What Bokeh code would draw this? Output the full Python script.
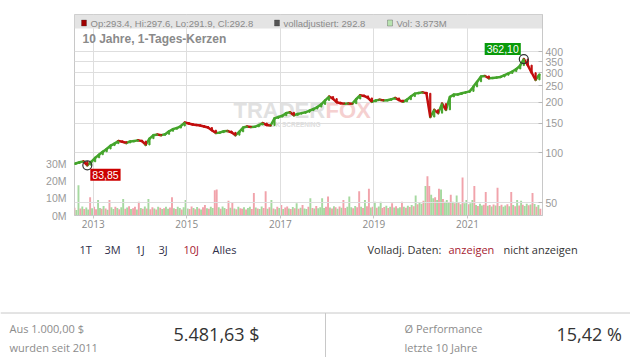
import pandas as pd
from math import log10
from bokeh.plotting import figure
from bokeh.models import (Range1d, LinearAxis, LinearScale, FixedTicker, NumeralTickFormatter,
                          DatetimeTickFormatter, CustomJSTickFormatter, Label,
                          BoxAnnotation, ColumnDataSource)
from bokeh.embed import file_html
from bokeh.resources import INLINE

# ---------------- data ----------------
start_month = "2012-08-01"
first_open = 85.0
closes = [
    86.0, 87.5, 88.5, 83.85, 88.0, 93.0, 97.0, 101.0, 105.0, 110.0, 113.0, 117.0,
    116.0, 114.0, 116.5, 117.0, 118.5, 117.0, 111.0, 121.0, 127.0, 128.0, 127.0, 128.5,
    134.0, 138.0, 140.0, 144.0, 151.0, 149.0, 147.0, 146.0, 145.0, 143.0, 141.0, 136.0,
    131.0, 131.5, 134.0, 134.5, 132.0, 127.0, 133.0, 141.0, 143.0, 142.0, 142.5, 146.0,
    150.0, 146.0, 145.0, 160.0, 163.0, 166.0, 172.0, 174.0, 167.0, 170.0, 172.0, 174.0,
    178.0, 182.0, 187.0, 194.0, 205.0, 216.0, 210.0, 200.0, 197.0, 196.0, 196.5, 196.0,
    209.0, 220.0, 218.0, 212.0, 201.0, 205.0, 207.0, 205.0, 205.5, 208.0, 212.0, 206.0,
    201.0, 207.0, 216.0, 225.0, 227.0, 229.0, 226.0, 163.0, 180.0, 172.0, 196.0, 180.0,
    215.0, 222.0, 222.5, 226.0, 229.0, 232.0, 247.0, 265.0, 285.0, 287.0, 278.0, 279.0,
    281.0, 283.0, 290.0, 297.0, 305.0, 316.0, 331.0, 362.10, 333.0, 300.0, 272.0, 292.8,
]
# volume in millions, two bars per month
volumes = [
    4.5, 3.2, 17.5, 4.0, 5.2, 3.8, 4.6, 3.5, 10.5, 4.2, 5.0, 3.6, 9.0, 4.4, 3.9, 5.5, 4.1, 3.3, 9.0, 4.7, 3.8, 5.1, 4.3, 3.6,
    4.8, 9.5, 3.9, 4.6, 5.3, 3.7, 4.2, 5.0, 3.5, 8.0, 4.4, 3.9, 5.2, 4.0, 9.5, 3.6, 4.8, 4.1, 3.4, 5.0, 4.5, 3.8, 4.2, 5.1,
    3.9, 4.6, 10.5, 4.2, 3.7, 5.0, 4.4, 3.5, 4.8, 9.0, 4.1, 3.8, 5.2, 4.3, 3.6, 4.9, 4.0, 3.4, 4.7, 6.0, 4.2, 3.9, 5.1, 4.4,
    14.6, 15.0, 4.8, 3.9, 5.2, 4.3, 3.8, 8.5, 4.5, 7.5, 4.0, 3.6, 5.0, 4.2, 3.9, 4.8, 3.5, 4.4, 5.1, 3.8, 13.0, 4.6, 4.0, 3.7,
    5.2, 4.4, 14.0, 3.9, 4.7, 9.0, 4.1, 3.6, 5.0, 4.3, 6.0, 3.8, 4.6, 5.2, 4.0, 3.7, 4.9, 4.2, 7.0, 3.9, 4.5, 6.0, 4.1, 3.8,
    5.1, 10.0, 4.4, 4.0, 5.5, 4.2, 4.8, 10.0, 4.3, 5.0, 11.0, 4.6, 4.1, 5.4, 4.7, 3.9, 5.2, 4.5, 9.0, 4.3, 5.0, 11.0, 4.8, 4.2,
    5.5, 4.7, 14.0, 5.1, 4.4, 9.0, 5.3, 15.5, 4.6, 5.0, 8.0, 4.5, 5.2, 8.0, 4.3, 4.9, 5.6, 4.4, 5.0, 7.0, 4.6, 5.3, 4.2, 4.8,
    8.0, 5.0, 4.5, 5.6, 4.9, 6.0, 5.4, 11.5, 6.5, 7.2, 6.8, 8.5, 17.0, 22.7, 17.0, 12.0, 10.0, 10.5, 9.0, 15.5, 15.0, 9.5, 8.0, 9.0,
    7.5, 12.0, 8.0, 7.0, 11.5, 7.2, 6.5, 22.0, 7.0, 9.0, 6.5, 7.0, 9.0, 17.0, 6.0, 5.5, 6.8, 5.8, 6.2, 13.5, 5.6, 6.0, 5.2, 6.4,
    5.8, 16.0, 5.5, 6.2, 5.0, 5.7, 6.5, 5.3, 13.5, 6.0, 5.4, 9.0, 5.8, 8.5, 6.2, 5.5, 6.8, 5.9, 6.3, 13.0, 6.6, 5.0, 6.0, 3.873,
]
volume_dir = ("rggrgrggrgrrggrgrgrggrgr" "ggrgrgrrgrgrgrgrrgrgrgrg" "grrgrggrgggrrgrgrgrrgrgg"
              "rrgrggrrgrgrgrrgrggrrgrg" "grrgrgrgrgrgrrgrgrgrgrgg" "rgrgrggggrrgrgrgrgrrgggr"
              "grrgrgrrgrgrggrrgrgrgrgg" "rgrgrgrgrggrgrrggrgrgrgg" "grgrgrgrggrggrgrggrrgrgr"
              "grgrggrgrgrgrgrggrgrgrgr")
year_ticks = [2013, 2015, 2017, 2019, 2021]
price_ticks = [50, 100, 150, 200, 250, 300, 350, 400]
vol_ticks = [0, 10, 20, 30]
low_value, low_text = 83.85, "83,85"
high_value, high_text = 362.10, "362,10"
header_ohlc = "Op:293.4, Hi:297.6, Lo:291.9, Cl:292.8"
header_adj = "volladjustiert: 292.8"
header_vol = "Vol: 3.873M"
chart_title = "10 Jahre, 1-Tages-Kerzen"
range_buttons = ["1T", "3M", "1J", "3J", "10J", "Alles"]
adj_texts = ["Volladj. Daten:", "anzeigen", "nicht anzeigen"]
invest_label = ["Aus 1.000,00 $", "wurden seit 2011"]
invest_value = "5.481,63 $"
perf_label = ["Ø Performance", "letzte 10 Jahre"]
perf_value = "15,42 %"

# ---------------- derived ----------------
month_starts = pd.date_range(start_month, periods=len(closes), freq="MS")
months = month_starts + pd.Timedelta(days=15)
prev_months = months - pd.Timedelta(days=30)
opens = [first_open] + closes[:-1]
UP, DOWN = "#45a52c", "#c20e0e"
ccol = [UP if c >= o else DOWN for o, c in zip(opens, closes)]
vol_dates = []
for m in month_starts:
    vol_dates += [m + pd.Timedelta(days=7), m + pd.Timedelta(days=22)]
n = min(len(vol_dates), len(volumes), len(volume_dir))
vcol = ["#a6d9a0" if d == "g" else "#f1a3ab" for d in volume_dir[:n]]

DAY = 86400000
X0, X1 = pd.Timestamp("2012-08-08"), pd.Timestamp("2022-08-09")
Y0, Y1 = 42.0, 669.0
W = 630
TOP_H = 236
FL, FR, FT, FB = 74, 542, 14, 215   # frame in page pixels
ms0, ms1 = X0.value // 10**6, X1.value // 10**6

def px_x(px):
    return ms0 + (px - FL) / (FR - FL) * (ms1 - ms0)

def px_y(py):
    return 10 ** (log10(Y0) + (FB - py) / (FB - FT) * (log10(Y1) - log10(Y0)))

# ---------------- chart figure ----------------
pA = figure(width=W, height=TOP_H, x_axis_type="datetime", y_axis_type="log",
            x_range=Range1d(X0, X1), y_range=Range1d(Y0, Y1), y_axis_location="right",
            output_backend="svg", toolbar_location=None,
            min_border_left=FL, min_border_right=W - FR,
            min_border_top=FT, min_border_bottom=TOP_H - FB)
pA.outline_line_color = "#c8c8c8"
pA.background_fill_color = "white"
pA.extra_y_ranges = {"vol": Range1d(0, 116.0)}
pA.extra_y_scales = {"vol": LinearScale()}

GRID = "#dedede"
year_ms = [pd.Timestamp(f"{y}-01-01").value // 10**6 for y in year_ticks]
pA.xaxis.ticker = FixedTicker(ticks=year_ms)
pA.xgrid.ticker = FixedTicker(ticks=year_ms)
pA.xaxis.formatter = DatetimeTickFormatter(years="%Y", months="%Y", days="%Y", hours="%Y")
pA.xaxis.major_label_text_font = "Open Sans"
pA.xaxis.major_label_text_font_size = "10px"
pA.xaxis.major_label_text_color = "#8a8a8a"
pA.xaxis.axis_line_color = "#c8c8c8"
pA.xaxis.major_tick_line_color = "#c8c8c8"
pA.xaxis.major_tick_out = 3
pA.xaxis.major_tick_in = 0
pA.xaxis.minor_tick_line_color = None
pA.xaxis.major_label_standoff = 1

pA.yaxis.ticker = FixedTicker(ticks=price_ticks)
pA.ygrid.ticker = FixedTicker(ticks=price_ticks)
pA.yaxis.formatter = NumeralTickFormatter(format="0")
pA.yaxis.major_label_text_font = "Liberation Sans"
pA.yaxis.major_label_text_font_size = "10.5px"
pA.yaxis.major_label_text_color = "#9a9a9a"
pA.yaxis.axis_line_color = "#c8c8c8"
pA.yaxis.major_tick_line_color = "#b8b8b8"
pA.yaxis.major_tick_in = 4
pA.yaxis.major_tick_out = 0
pA.yaxis.minor_tick_line_color = None
pA.yaxis.major_label_standoff = 3
pA.xgrid.grid_line_color = GRID
pA.ygrid.grid_line_color = GRID

vaxis = LinearAxis(y_range_name="vol", ticker=FixedTicker(ticks=vol_ticks),
                   formatter=CustomJSTickFormatter(code="return tick + 'M'"))
vaxis.axis_line_color = None
vaxis.major_tick_line_color = None
vaxis.minor_tick_line_color = None
vaxis.major_label_text_font = "Liberation Sans"
vaxis.major_label_text_font_size = "10.5px"
vaxis.major_label_text_color = "#9a9a9a"
vaxis.major_label_standoff = 2
pA.add_layout(vaxis, "left")

# header band
pA.add_layout(BoxAnnotation(bottom=px_y(28), top=Y1, fill_color="#e4e4e4", fill_alpha=1.0,
                            line_color=None, level="underlay"))

# watermark
pA.add_layout(Label(x=px_x(233), y=px_y(110), text="TRADER", text_font="Liberation Sans",
                    text_font_style="bold", text_font_size="22px", text_color="#e1e1e1",
                    text_baseline="middle", level="image"))
pA.add_layout(Label(x=px_x(325), y=px_y(110), text="FOX", text_font="Liberation Sans",
                    text_font_style="bold", text_font_size="22px", text_color="#f5d0d0",
                    text_baseline="middle", level="image"))
pA.add_layout(Label(x=px_x(257), y=px_y(124), text="STOCK SCREENING", text_font="Liberation Sans",
                    text_font_style="bold", text_font_size="6.5px", text_color="#dddddd",
                    text_baseline="middle", level="image"))

# volume bars
vsrc = ColumnDataSource(dict(x=vol_dates[:n], top=volumes[:n], color=vcol))
pA.vbar(x="x", top="top", bottom=0, width=15 * DAY, source=vsrc, fill_color="color",
        line_color=None, y_range_name="vol", level="image")

# candles: each month drawn from its open to its close as a thick stroke, plus its body
csrc = ColumnDataSource(dict(x0=prev_months, x1=months, top=closes, bottom=opens, color=ccol))
pA.segment(x0="x0", y0="bottom", x1="x1", y1="top", source=csrc, line_color="color",
           line_width=2.5, line_cap="round")
pA.vbar(x="x1", top="top", bottom="bottom", width=9 * DAY, source=csrc,
        fill_color="color", line_color="color", line_width=1)

# extremes
i_lo = closes.index(low_value)
i_hi = closes.index(high_value)
pA.scatter(x=[months[i_lo], months[i_hi]], y=[low_value, high_value], size=9,
           marker="circle", fill_color=None, line_color="#333333", line_width=1.2)
pA.add_layout(Label(x=months[i_lo], y=low_value, text=low_text, x_offset=3, y_offset=-3.5,
                    text_align="left", text_baseline="top", text_color="white",
                    text_font="Liberation Sans", text_font_size="10.5px",
                    background_fill_color="#cc0000", padding=2))
pA.add_layout(Label(x=months[i_hi], y=high_value, text=high_text, x_offset=-3, y_offset=4,
                    text_align="right", text_baseline="bottom", text_color="white",
                    text_font="Liberation Sans", text_font_size="10.5px",
                    background_fill_color="#0a9a0a", padding=2))

# header legend squares & texts
for (x0, x1, fc) in [(81, 86, "#a00000"), (274, 279, "#555555"), (387, 392, "#b8e2b0")]:
    pA.add_layout(BoxAnnotation(left=px_x(x0), right=px_x(x1), bottom=px_y(25.5), top=px_y(19.5),
                                fill_color=fc, fill_alpha=1.0, line_color="#333333", line_width=1))
for (x, t) in [(90, header_ohlc), (283, header_adj), (396, header_vol)]:
    pA.add_layout(Label(x=px_x(x), y=px_y(22.5), text=t, text_font="Liberation Sans",
                        text_font_size="9.5px", text_color="#8a8a8a", text_baseline="middle"))
pA.add_layout(Label(x=px_x(82), y=px_y(38), text=chart_title, text_font="Liberation Sans",
                    text_font_style="bold", text_font_size="12px", text_color="#8a8a8a",
                    text_baseline="middle"))

# ---------------- bottom panel (separate root, page pixel coordinates) ----------------
BOT_H = 121
pB = figure(width=W, height=BOT_H, x_range=Range1d(0, W), y_range=Range1d(TOP_H + BOT_H, TOP_H),
            output_backend="svg", toolbar_location=None, min_border=0,
            min_border_left=0, min_border_right=0, min_border_top=0, min_border_bottom=0,
            x_axis_location=None, y_axis_location=None)
pB.outline_line_color = None
pB.xgrid.visible = False
pB.ygrid.visible = False
pB.segment(x0=[0, 325], y0=[312.5, 312.5], x1=[W, 325], y1=[312.5, TOP_H + BOT_H],
           line_color="#c8c8c8", line_width=1)

def btxt(x, y, t, size, color):
    pB.add_layout(Label(x=x, y=y, text=t, text_font="Open Sans", text_font_size=size,
                        text_color=color, text_baseline="middle", text_align="left"))

RED = "#a61b32"
NAVY = "#30304a"
for x, t in zip([79, 104, 135, 158, 183, 212], range_buttons):
    btxt(x, 249, t, "11px", RED if t == "10J" else NAVY)
for x, t in zip([367, 448, 503], adj_texts):
    btxt(x, 249, t, "11px", RED if t == "anzeigen" else "#333333")
btxt(9, 328, invest_label[0], "11px", "#8c8c8c")
btxt(9, 347, invest_label[1], "11px", "#8c8c8c")
btxt(173, 333, invest_value, "18px", "#333333")
btxt(404, 328, perf_label[0], "11px", "#8c8c8c")
btxt(404, 347, perf_label[1], "11px", "#8c8c8c")
btxt(556, 333, perf_value, "18px", "#333333")

open("out.html", "w").write(file_html([pA, pB], INLINE))
